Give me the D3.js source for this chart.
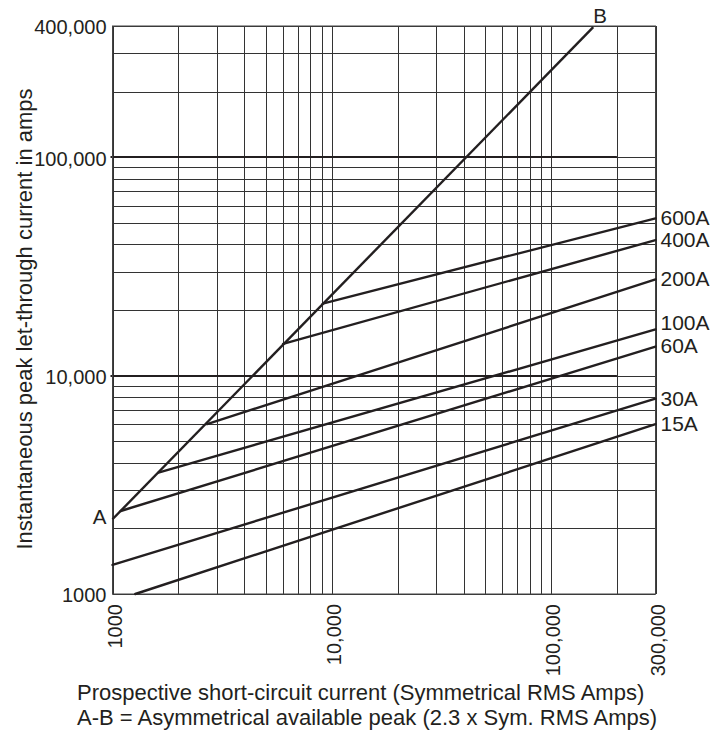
<!DOCTYPE html>
<html>
<head>
<meta charset="utf-8">
<script src="https://cdn.jsdelivr.net/npm/d3@7"></script>
<style>
  body { margin: 0; background: #fff; }
  text { font-family: "Liberation Sans", Arial, Helvetica, sans-serif; fill: #231f20; }
</style>
</head>
<body>
<div id="chart"></div>
<script>
// x: prospective short-circuit current, y: peak let-through current
const xTickValues = [1000, 10000, 100000, 300000];
const xTickLabels = ["1000", "10,000", "100,000", "300,000"];
const yTickValues = [1000, 10000, 100000, 400000];
const yTickLabels = ["1000", "10,000", "100,000", "400,000"];

// A-B line (asymmetrical available peak)
const abX = [1000, 156000];
const abY = [2200, 395000];

// fuse let-through lines: start on A-B, end at 300,000
const fuseNames = ["600A", "400A", "200A", "100A", "60A", "30A", "15A"];
const fuseStartX = [9100, 6000, 2700, 1620, 1090, 1000, 1270];
const fuseStartY = [21400, 14000, 6000, 3600, 2400, 1360, 1000];
const fuseEndX = [300000, 300000, 300000, 300000, 300000, 300000, 300000];
const fuseEndY = [52600, 41800, 27600, 16300, 13600, 7850, 6000];

const svgWidth = 728;
const svgHeight = 732;
const ink = "#231f20";

const svg = d3.select("#chart")
  .append("svg")
  .attr("width", svgWidth)
  .attr("height", svgHeight);

const xScale = d3.scaleLog()
  .domain([1000, 300000])
  .range([112.5, 655.5]);

const yScale = d3.scaleLog()
  .domain([1000, 400000])
  .range([594, 26]);

const plotLeft = xScale.range()[0], plotRight = xScale.range()[1];
const plotTop = yScale.range()[1], plotBottom = yScale.range()[0];

// grid
const grid = svg.append("g");
grid.selectAll("line.v")
  .data(xScale.ticks())
  .enter()
  .append("line")
  .attr("class", "v")
  .attr("x1", function(d) { return Math.round(xScale(d)) + 0.5; })
  .attr("x2", function(d) { return Math.round(xScale(d)) + 0.5; })
  .attr("y1", plotTop)
  .attr("y2", plotBottom)
  .style("stroke", "#333")
  .style("stroke-width", 1);

grid.selectAll("line.h")
  .data(yScale.ticks())
  .enter()
  .append("line")
  .attr("class", "h")
  .attr("x1", plotLeft)
  .attr("x2", plotRight)
  .attr("y1", function(d) { return Math.round(yScale(d)) + 0.5; })
  .attr("y2", function(d) { return Math.round(yScale(d)) + 0.5; })
  .style("stroke", "#333")
  .style("stroke-width", 1);

// heavier decade lines
grid.selectAll("line.decade")
  .data([10000, 100000])
  .enter()
  .append("line")
  .attr("class", "decade")
  .attr("x1", plotLeft - 2)
  .attr("x2", xScale(200000))
  .attr("y1", function(d) { return Math.round(yScale(d)); })
  .attr("y2", function(d) { return Math.round(yScale(d)); })
  .style("stroke", ink)
  .style("stroke-width", 2);

// frame
svg.append("rect")
  .attr("x", plotLeft)
  .attr("y", plotTop)
  .attr("width", plotRight - plotLeft)
  .attr("height", plotBottom - plotTop)
  .style("fill", "none")
  .style("stroke", "#444")
  .style("stroke-width", 1);

const line = d3.line()
  .x(function(d) { return xScale(d[0]); })
  .y(function(d) { return yScale(d[1]); });

// A-B
svg.append("path")
  .attr("d", line([[abX[0], abY[0]], [abX[1], abY[1]]]))
  .style("fill", "none")
  .style("stroke", ink)
  .style("stroke-width", 2.4);

// fuses
const fuses = fuseNames.map(function(name, i) {
  return { name: name, pts: [[fuseStartX[i], fuseStartY[i]], [fuseEndX[i], fuseEndY[i]]] };
});

svg.selectAll("path.fuse")
  .data(fuses)
  .enter()
  .append("path")
  .attr("class", "fuse")
  .attr("d", function(d) { return line(d.pts); })
  .style("fill", "none")
  .style("stroke", ink)
  .style("stroke-width", 2.4)
  .style("stroke-linecap", "round");

svg.selectAll("text.fuse")
  .data(fuses)
  .enter()
  .append("text")
  .attr("class", "fuse")
  .attr("x", function(d) { return xScale(d.pts[1][0]) + 5; })
  .attr("y", function(d) { return yScale(d.pts[1][1]); })
  .attr("dy", function(d) { return d.name === "100A" ? "0.05em" : "0.33em"; })
  .style("font-size", "21px")
  .text(function(d) { return d.name; });

// A and B markers
svg.append("text")
  .attr("x", xScale(abX[0]) - 6)
  .attr("y", yScale(abY[0]))
  .attr("dy", "0.25em")
  .style("text-anchor", "end")
  .style("font-size", "20.5px")
  .text("A");

svg.append("text")
  .attr("x", xScale(abX[1]))
  .attr("y", yScale(abY[1]) - 4)
  .style("font-size", "20.5px")
  .text("B");

// y tick labels
svg.selectAll("text.ytick")
  .data(yTickValues)
  .enter()
  .append("text")
  .attr("class", "ytick")
  .attr("x", plotLeft - 6)
  .attr("y", function(d) { return yScale(d); })
  .attr("dy", "0.42em")
  .style("text-anchor", "end")
  .style("font-size", "20px")
  .text(function(d, i) { return yTickLabels[i]; });

// x tick labels, rotated
svg.selectAll("text.xtick")
  .data(xTickValues)
  .enter()
  .append("text")
  .attr("class", "xtick")
  .attr("transform", function(d) {
    return "translate(" + (xScale(d) + 9) + "," + (plotBottom + 10) + ") rotate(-90)";
  })
  .style("text-anchor", "end")
  .style("font-size", "20px")
  .text(function(d, i) { return xTickLabels[i]; });

// axis titles
svg.append("text")
  .attr("transform", "rotate(-90)")
  .attr("x", -319)
  .attr("y", 31.5)
  .style("text-anchor", "middle")
  .style("font-size", "22px")
  .text("Instantaneous peak let-through current in amps");

svg.append("text")
  .attr("x", 77)
  .attr("y", 700)
  .style("font-size", "22px")
  .text("Prospective short-circuit current (Symmetrical RMS Amps)");

svg.append("text")
  .attr("x", 77)
  .attr("y", 725)
  .style("font-size", "22px")
  .text("A-B = Asymmetrical available peak (2.3 x Sym. RMS Amps)");
</script>
</body>
</html>
